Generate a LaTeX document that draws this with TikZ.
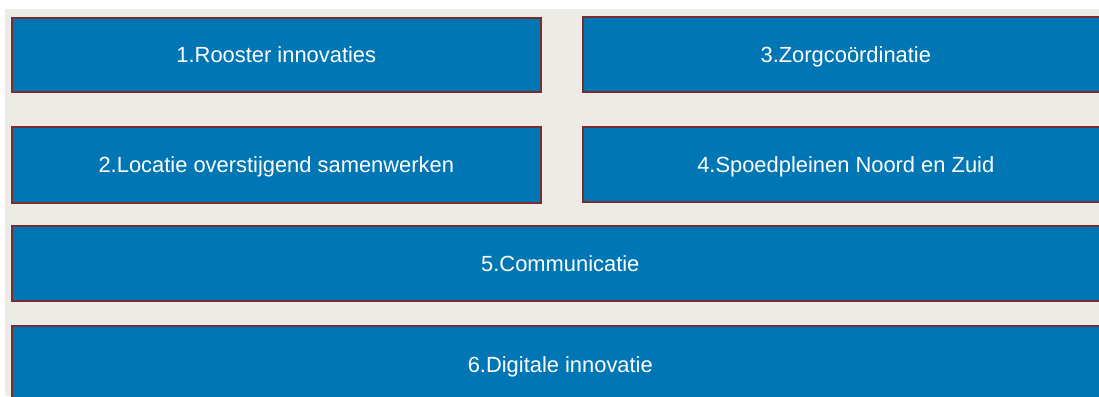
\documentclass[tikz,border=0pt]{standalone}
\usepackage{fontspec}
\setmainfont{Liberation Sans}
\definecolor{boxblue}{HTML}{0076B4}
\definecolor{boxedge}{HTML}{7A2C2E}
\definecolor{bgbeige}{HTML}{EDEBE6}
\begin{document}
\begin{tikzpicture}[x=1pt,y=-1pt,
  tile/.style={draw=boxedge, line width=1.6pt, fill=boxblue, text=white,
    inner sep=0pt, anchor=north west, text height=16pt, text depth=0pt,
    font=\fontsize{21.9}{24}\selectfont}]
\useasboundingbox (0,0) rectangle (1099,396);
\clip (0,0) rectangle (1099,396);
\fill[white] (0,0) rectangle (1099,396);
\fill[bgbeige] (5,9) rectangle (1099,396);
\node[tile, minimum width=529pt, minimum height=74pt] (b1) at (11,17) {1.Rooster innovaties};
\node[tile, minimum width=526pt, minimum height=75pt] (b3) at (582,16) {3.Zorgcoördinatie};
\node[tile, minimum width=529pt, minimum height=76pt] (b2) at (11,126) {2.Locatie overstijgend samenwerken};
\node[tile, minimum width=526pt, minimum height=75pt] (b4) at (582,126) {4.Spoedpleinen Noord en Zuid};
\node[tile, minimum width=1097pt, minimum height=75pt] (b5) at (11,225) {5.Communicatie};
\node[tile, minimum width=1097pt, minimum height=78pt] (b6) at (11,325) {6.Digitale innovatie};
\end{tikzpicture}
\end{document}
